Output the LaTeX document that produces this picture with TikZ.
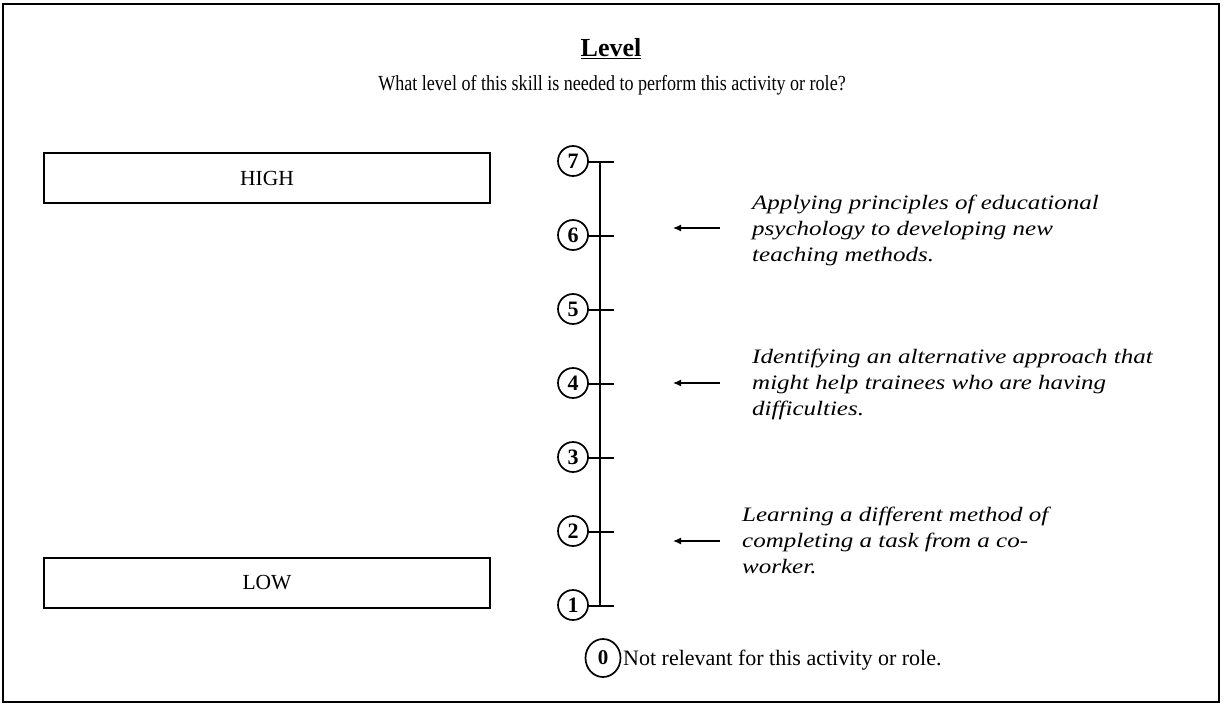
\documentclass[tikz,border=0pt]{standalone}
\usepackage{fontspec}
\usepackage{graphicx}
\setmainfont{Liberation Serif}
\usetikzlibrary{arrows.meta,shapes.geometric}
\begin{document}
\begin{tikzpicture}[x=1pt,y=-1pt,
  lbox/.style={draw, line width=1.5pt, minimum width=446pt, minimum height=50pt, inner sep=0pt, font=\fontsize{21.5}{24}\selectfont},
  num/.style={circle, draw, line width=1.7pt, minimum size=30pt, inner sep=0pt, font=\bfseries\fontsize{22}{24}\selectfont},
  ex/.style={align=left, anchor=north west, inner sep=0pt, font=\itshape\fontsize{20.5}{26}\selectfont},
  tick/.style={line width=1.6pt},
  ar/.style={line width=1.3pt, -{Latex[length=8pt,width=7pt]}}]
\newcommand{\wl}[1]{\scalebox{1.22}[1]{#1}}
\useasboundingbox (0,0) rectangle (1223,706);
\draw[line width=2.4pt] (3,4) rectangle (1219,702);
\draw[line width=1.5pt] (3,3.5) -- (1219,3.5);
\node[font=\bfseries\fontsize{26}{30}\selectfont] (title) at (611,49) {\underline{Level}};
\node[font=\fontsize{21.5}{24}\selectfont] (sub) at (612,85) {\scalebox{0.84}[1]{What level of this skill is needed to perform this activity or role?}};
\node[lbox] (high) at (267,178) {HIGH};
\node[lbox] (low) at (267,583) {LOW};
\foreach \k in {1,...,7} {
  \coordinate (t\k) at (600,{162+(7-\k)*74});
  \node[num] (n\k) at (573,{161+(7-\k)*74}) {\k};
  \draw[tick] ([xshift=-13pt]t\k) -- ([xshift=14pt]t\k);
}
\draw[line width=2.4pt] (t7) -- (t1);
\node[ellipse, draw, line width=1.7pt, minimum width=35pt, minimum height=38pt, inner sep=0pt, font=\bfseries\fontsize{21}{24}\selectfont] (n0) at (603,658) {0};
\node[anchor=west, inner sep=0pt, font=\fontsize{22}{26}\selectfont] (nr) at (623,660) {Not relevant for this activity or role.};
\coordinate (a6s) at (720,228); \coordinate (a6e) at (673,228);
\coordinate (a4s) at (720,383); \coordinate (a4e) at (673,383);
\coordinate (a2s) at (720,541); \coordinate (a2e) at (673,541);
\draw[ar] (a6s) -- (a6e);
\draw[ar] (a4s) -- (a4e);
\draw[ar] (a2s) -- (a2e);
\node[ex] (e6) at (752,195) {\wl{Applying principles of educational}\\\wl{psychology to developing new}\\\wl{teaching methods.}};
\node[ex] (e4) at (752,349) {\wl{Identifying an alternative approach that}\\\wl{might help trainees who are having}\\\wl{difficulties.}};
\node[ex] (e2) at (742,507) {\wl{Learning a different method of}\\\wl{completing a task from a co-}\\\wl{worker.}};
\end{tikzpicture}
\end{document}
